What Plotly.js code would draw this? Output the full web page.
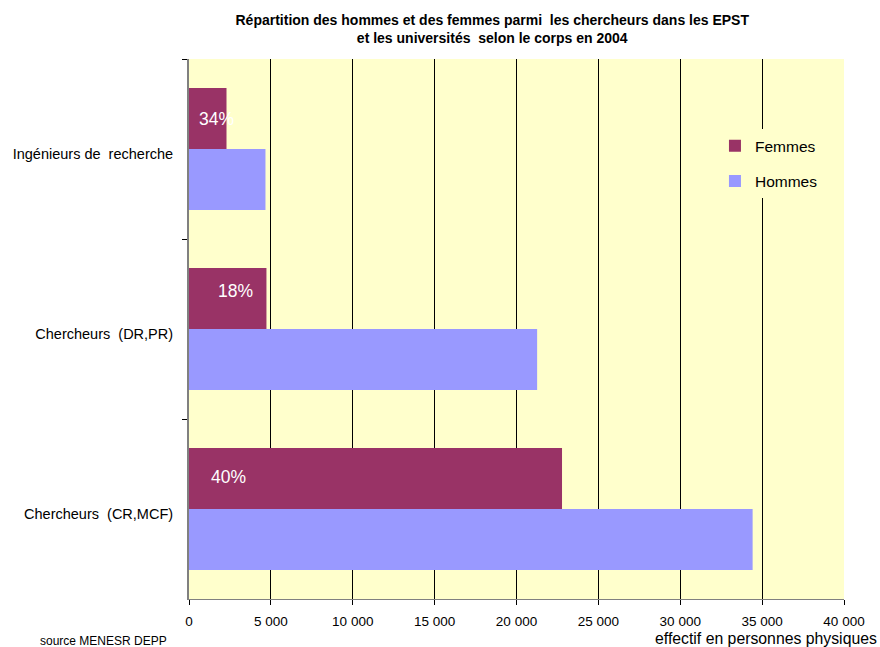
<!DOCTYPE html>
<html>
<head>
<meta charset="utf-8">
<script src="https://cdn.plot.ly/plotly-3.0.1.min.js"></script>
<style>html,body{margin:0;padding:0;background:#fff;}#chart{width:880px;height:647px;}</style>
</head>
<body>
<div id="chart"></div>
<script>
// Categories listed top to bottom (y axis reversed)
var categories = ['Ingénieurs de \u00a0recherche', 'Chercheurs \u00a0(DR,PR)', 'Chercheurs \u00a0(CR,MCF)'];
var femmes = [2290, 4730, 22780];
var hommes = [4670, 21260, 34420];
var pctLabels = ['34%', '18%', '40%'];
var xTickVals = [0, 5000, 10000, 15000, 20000, 25000, 30000, 35000, 40000];
var xTickText = ['0', '5 000', '10 000', '15 000', '20 000', '25 000', '30 000', '35 000', '40 000'];

var FONT = '"Liberation Sans", Arial, sans-serif';
var labelShiftX = [7.5, 26.5, 19.5];
var labelShiftY = [30, 38, 32];

var traces = [
  {type: 'bar', orientation: 'h', name: 'Femmes', y: categories, x: femmes,
   marker: {color: '#993366'}, legendgroup: 'f', hoverinfo: 'x+name'},
  {type: 'bar', orientation: 'h', name: 'Hommes', y: categories, x: hommes,
   marker: {color: '#9999FF'}, legendgroup: 'h', hoverinfo: 'x+name'}
];

var annotations = categories.map(function (c, i) {
  return {x: 0, y: c, xref: 'x', yref: 'y', text: pctLabels[i], showarrow: false,
          xanchor: 'left', yanchor: 'middle', xshift: labelShiftX[i], yshift: labelShiftY[i],
          font: {family: FONT, size: 17.5, color: '#ffffff'}};
});
annotations.push({xref: 'paper', yref: 'paper', x: 1, y: 0, xanchor: 'right', yanchor: 'top',
  xshift: 35, yshift: -29, text: 'effectif en personnes physiques', showarrow: false,
  font: {family: FONT, size: 15.8, color: '#000'}});
annotations.push({xref: 'paper', yref: 'paper', x: 0, y: 0, xanchor: 'right', yanchor: 'top',
  xshift: -20, yshift: -33, text: 'source MENESR DEPP', showarrow: false,
  font: {family: FONT, size: 12, color: '#000'}});

var layout = {
  width: 880, height: 647,
  margin: {l: 188.5, r: 35.7, t: 59, b: 48, pad: 0},
  paper_bgcolor: '#ffffff', plot_bgcolor: '#FFFFCC',
  font: {family: FONT, size: 12, color: '#000'},
  title: {text: 'Répartition des hommes et des femmes parmi  les chercheurs dans les EPST<br>et les universités  selon le corps en 2004',
          font: {family: FONT, size: 14, color: '#000', weight: 'bold'},
          x: 0.463, xanchor: 'center', xref: 'paper', y: 0.962, yanchor: 'top', yref: 'container'},
  barmode: 'group', bargap: 0.322, bargroupgap: 0,
  showlegend: true,
  legend: {x: 0.803, y: 0.870, xanchor: 'left', yanchor: 'top', bgcolor: '#FFFFCC',
           font: {family: FONT, size: 15.5, color: '#000'}, traceorder: 'grouped', tracegroupgap: 12},
  xaxis: {range: [0, 40000], tickvals: xTickVals, ticktext: xTickText,
          showgrid: true, gridcolor: '#000000', gridwidth: 1, zeroline: false,
          showline: true, linecolor: '#808080', linewidth: 1,
          ticks: 'outside', ticklen: 5, tickcolor: '#000', ticklabelstandoff: 5,
          tickfont: {family: FONT, size: 13.5, color: '#000'}, fixedrange: true},
  yaxis: {type: 'category', categoryorder: 'array', categoryarray: categories, autorange: 'reversed',
          tickson: 'boundaries', ticks: 'outside', ticklen: 5, tickcolor: '#000',
          showgrid: false, zeroline: false, showline: true, linecolor: '#808080', linewidth: 2,
          tickfont: {family: FONT, size: 14.5, color: '#000'}, ticklabelstandoff: 11, ticklabelshift: -5,
          fixedrange: true},
  annotations: annotations
};

Plotly.newPlot('chart', traces, layout, {displayModeBar: false, staticPlot: true});
</script>
</body>
</html>
